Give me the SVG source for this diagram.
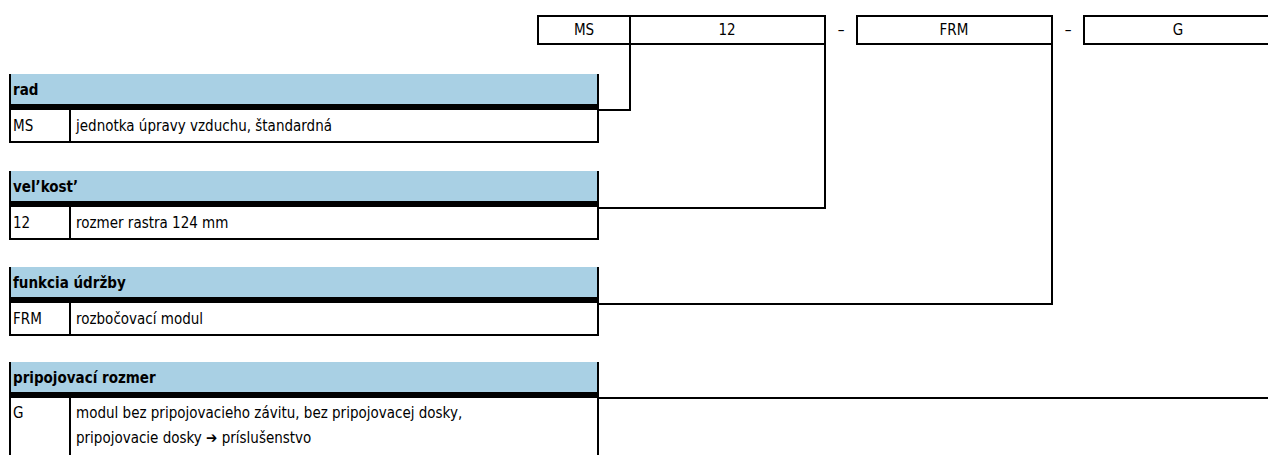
<svg xmlns="http://www.w3.org/2000/svg" width="1268" height="455" viewBox="0 0 1268 455">
<style>
.t{font-family:"Liberation Sans Narrow","DejaVu Sans Condensed","Liberation Sans",sans-serif;font-size:15px;fill:#000}
.b{font-weight:bold}
.box{fill:#fff;stroke:#000;stroke-width:2}
.hdr{fill:#a9d0e4}
.bar{fill:#000}
.ln{fill:none;stroke:#000;stroke-width:2}
</style>
<rect width="1268" height="455" fill="#fff"/>
<g id="code">
<rect class="box" x="538" y="16" width="92" height="28"/>
<rect class="box" x="630" y="16" width="195" height="28"/>
<rect class="box" x="857" y="16" width="195" height="28"/>
<rect class="box" x="1084" y="16" width="190" height="28"/>
<text class="t" x="584" y="35" text-anchor="middle">MS</text>
<text class="t" x="727" y="35" text-anchor="middle">12</text>
<text class="t" x="841" y="35" text-anchor="middle">–</text>
<text class="t" x="954" y="35" text-anchor="middle">FRM</text>
<text class="t" x="1068" y="35" text-anchor="middle">–</text>
<text class="t" x="1178" y="35" text-anchor="middle">G</text>
</g>
<g id="connectors">
<polyline class="ln" points="630,44 630,110 598,110"/>
<polyline class="ln" points="825,44 825,208 598,208"/>
<polyline class="ln" points="1052,44 1052,304 598,304"/>
<line class="ln" x1="598" y1="398" x2="1268" y2="398"/>
</g>
<g id="rad">
<rect class="hdr" x="9" y="74" width="589" height="30"/>
<rect class="bar" x="9" y="104" width="589" height="6"/>
<path class="ln" d="M598,74 V142 H10 V74 M70,110 V142"/>
<text class="t b" x="13" y="95">rad</text>
<text class="t" x="13" y="131">MS</text>
<text class="t" x="76" y="131">jednotka úpravy vzduchu, štandardná</text>
</g>
<g id="velkost">
<rect class="hdr" x="9" y="171" width="589" height="30"/>
<rect class="bar" x="9" y="201" width="589" height="6"/>
<path class="ln" d="M598,171 V239 H10 V171 M70,207 V239"/>
<text class="t b" x="13" y="192">vel’kost’</text>
<text class="t" x="13" y="228">12</text>
<text class="t" x="76" y="228">rozmer rastra 124 mm</text>
</g>
<g id="funkcia">
<rect class="hdr" x="9" y="267" width="589" height="30"/>
<rect class="bar" x="9" y="297" width="589" height="6"/>
<path class="ln" d="M598,267 V335 H10 V267 M70,303 V335"/>
<text class="t b" x="13" y="288">funkcia údržby</text>
<text class="t" x="13" y="324">FRM</text>
<text class="t" x="76" y="324">rozbočovací modul</text>
</g>
<g id="pripojovaci">
<rect class="hdr" x="9" y="362" width="589" height="30"/>
<rect class="bar" x="9" y="392" width="589" height="6"/>
<path class="ln" d="M598,362 V456 M10,362 V456 M70,398 V456"/>
<text class="t b" x="13" y="383">pripojovací rozmer</text>
<text class="t" x="13" y="418">G</text>
<text class="t" x="76" y="418">modul bez pripojovacieho závitu, bez pripojovacej dosky,</text>
<text class="t" x="76" y="443">pripojovacie dosky ➔ príslušenstvo</text>
</g>
</svg>
